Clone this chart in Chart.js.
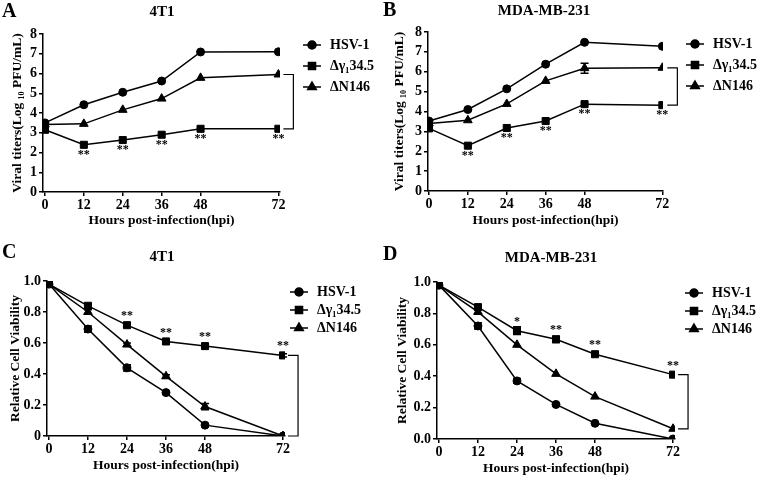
<!DOCTYPE html>
<html>
<head>
<meta charset="utf-8">
<script src="https://cdn.jsdelivr.net/npm/chart.js@4"></script>
<style>
  html, body { margin: 0; padding: 0; background: #fff; }
  #wrap { position: relative; width: 760px; height: 478px; overflow: hidden; }
  canvas { position: absolute; }
</style>
</head>
<body>
<div id="wrap">
  <canvas id="panelA" width="380" height="240" style="left:0;top:0"></canvas>
  <canvas id="panelB" width="380" height="240" style="left:380px;top:0"></canvas>
  <canvas id="panelC" width="380" height="238" style="left:0;top:240px"></canvas>
  <canvas id="panelD" width="380" height="238" style="left:380px;top:240px"></canvas>
</div>
<script>
// data
const hours = [0, 12, 24, 36, 48, 72];
const xTicks = [0, 12, 24, 36, 48, 72];
const seriesNames = ['HSV-1', 'Δγ₁34.5', 'ΔN146'];

// A: 4T1 viral titers
const titerA_HSV = [3.5, 4.42, 5.05, 5.62, 7.09, 7.1];
const titerA_G345 = [3.15, 2.39, 2.63, 2.9, 3.2, 3.2];
const titerA_N146 = [3.42, 3.45, 4.16, 4.73, 5.78, 5.95];
const starsA = ['', '**', '**', '**', '**', '**'];

// B: MDA-MB-231 viral titers
const titerB_HSV = [3.52, 4.1, 5.14, 6.38, 7.48, 7.28];
const titerB_G345 = [3.15, 2.28, 3.17, 3.52, 4.37, 4.32];
const titerB_N146 = [3.4, 3.56, 4.38, 5.54, 6.18, 6.2];
const errB_N146 = [0, 0, 0, 0, 0.25, 0];
const starsB = ['', '**', '**', '**', '**', '**'];

// C: 4T1 viability
const viaC_HSV = [0.98, 0.69, 0.44, 0.28, 0.07, 0];
const viaC_G345 = [0.98, 0.84, 0.715, 0.61, 0.58, 0.52];
const viaC_N146 = [0.98, 0.8, 0.59, 0.385, 0.19, 0];
const errC_HSV = [0, 0.02, 0.02, 0.01, 0.01, 0];
const errC_G345 = [0, 0.012, 0.01, 0.01, 0.01, 0.01];
const errC_N146 = [0, 0.015, 0.01, 0.01, 0.02, 0];
const starsC = ['', '', '**', '**', '**', '**'];

// D: MDA-MB-231 viability
const viaD_HSV = [0.98, 0.72, 0.37, 0.22, 0.1, 0];
const viaD_G345 = [0.98, 0.84, 0.69, 0.635, 0.54, 0.41];
const viaD_N146 = [0.98, 0.81, 0.6, 0.415, 0.27, 0.065];
const errD_HSV = [0, 0.02, 0.015, 0, 0, 0];
const errD_G345 = [0, 0.01, 0.025, 0.02, 0.01, 0];
const errD_N146 = [0, 0.015, 0, 0, 0, 0];
const starsD = ['', '', '*', '**', '**', '**'];

const FONT = "'Liberation Serif', 'Times New Roman', serif";
const pointStyles = ['circle', 'rect', 'triangle'];
const pointSizes = [4, 5, 5];

const decorPlugin = {
    id: 'decor',
    afterDatasetsDraw(chart, args, o) {
        const { ctx, scales: { x, y } } = chart;
        ctx.save();
        ctx.strokeStyle = '#000';
        ctx.fillStyle = '#000';
        ctx.lineWidth = 1.5;

        // error bars
        chart.data.datasets.forEach(ds => {
            if (!ds.errors) return;
            ds.errors.forEach((e, j) => {
                if (!e) return;
                const px = x.getPixelForValue(ds.data[j].x);
                const t = y.getPixelForValue(ds.data[j].y + e);
                const b = y.getPixelForValue(ds.data[j].y - e);
                ctx.beginPath();
                ctx.moveTo(px, t); ctx.lineTo(px, b);
                ctx.moveTo(px - 4, t); ctx.lineTo(px + 4, t);
                ctx.moveTo(px - 4, b); ctx.lineTo(px + 4, b);
                ctx.stroke();
            });
        });

        // significance stars
        const sd = chart.data.datasets[1].data;
        ctx.font = 'bold 12px ' + FONT;
        ctx.textAlign = 'center';
        ctx.textBaseline = 'middle';
        o.stars.forEach((s, j) => {
            if (!s) return;
            const px = x.getPixelForValue(sd[j].x);
            const py = y.getPixelForValue(sd[j].y);
            ctx.fillText(s, px, py + o.starDy);
        });

        // bracket at last time point
        const last = hours.length - 1;
        const bx = x.getPixelForValue(hours[last]);
        const y1 = y.getPixelForValue(chart.data.datasets[o.bracket[0]].data[last].y);
        const y2 = y.getPixelForValue(chart.data.datasets[o.bracket[1]].data[last].y);
        ctx.lineWidth = 1.2;
        ctx.beginPath();
        ctx.moveTo(bx + 5, y1); ctx.lineTo(bx + 15, y1);
        ctx.lineTo(bx + 15, y2); ctx.lineTo(bx + 5, y2);
        ctx.stroke();

        // legend
        ctx.textAlign = 'left';
        ctx.font = 'bold 14px ' + FONT;
        chart.data.datasets.forEach((ds, i) => {
            const ly = o.legend.y + i * o.legend.gap;
            ctx.lineWidth = 1.5;
            ctx.beginPath();
            ctx.moveTo(o.legend.x, ly); ctx.lineTo(o.legend.x + 18, ly);
            ctx.stroke();
            Chart.helpers.drawPoint(ctx, { pointStyle: pointStyles[i], radius: pointSizes[i], rotation: 0, borderWidth: 1 }, o.legend.x + 9, ly);
            ctx.fill();
            ctx.fillText(ds.label, o.legend.x + 27, ly);
        });

        // panel letter and title
        ctx.font = 'bold 20px ' + FONT;
        ctx.fillText(o.letter, o.letterX, o.letterY);
        ctx.textAlign = 'center';
        ctx.font = 'bold 15px ' + FONT;
        ctx.fillText(o.title, o.titleX, o.titleY);
        ctx.restore();
    }
};

function makePanel(id, p) {
    const ctx = document.getElementById(id).getContext('2d');
    const tickFont = { family: FONT, size: 14, weight: 'bold' };
    const axisLine = { display: true, color: '#000', width: 1.5 };
    const gridTicks = { display: true, drawOnChartArea: false, drawTicks: true, tickLength: 4, color: '#000', lineWidth: 1.5 };
    return new Chart(ctx, {
        type: 'line',
        data: {
            datasets: p.series.map((vals, i) => ({
                label: seriesNames[i],
                data: hours.map((h, j) => ({ x: h, y: vals[j] })),
                errors: p.errors[i],
                borderColor: '#000',
                backgroundColor: '#000',
                borderWidth: 1.5,
                pointStyle: pointStyles[i],
                pointRadius: pointSizes[i],
                pointBorderWidth: 1,
                tension: 0
            }))
        },
        options: {
            responsive: false,
            animation: false,
            events: [],
            layout: { padding: { top: p.top, right: p.right, left: 0, bottom: 0 } },
            plugins: {
                legend: { display: false },
                tooltip: { enabled: false },
                decor: p.decor
            },
            scales: {
                x: {
                    type: 'linear',
                    min: p.xMin,
                    max: p.xMax,
                    afterBuildTicks: s => { s.ticks = xTicks.map(v => ({ value: v })); },
                    afterFit: s => { s.height = p.xHeight; },
                    grid: gridTicks,
                    border: axisLine,
                    ticks: { font: tickFont, color: '#000', padding: 1, maxRotation: 0, autoSkip: false },
                    title: {
                        display: true,
                        text: 'Hours post-infection(hpi)',
                        font: { family: FONT, size: 13.5, weight: 'bold' },
                        color: '#000',
                        padding: { top: 0, bottom: p.xTitlePad }
                    }
                },
                y: {
                    min: p.yMin,
                    max: p.yMax,
                    afterFit: s => { s.width = p.yWidth; },
                    grid: gridTicks,
                    border: axisLine,
                    ticks: { font: tickFont, color: '#000', padding: 2, stepSize: p.yStep, autoSkip: false, callback: p.yFmt },
                    title: {
                        display: true,
                        text: p.yTitle,
                        font: { family: FONT, size: 13.5, weight: 'bold' },
                        color: '#000',
                        padding: { top: p.yTitlePad, bottom: 0 }
                    }
                }
            }
        },
        plugins: [decorPlugin]
    });
}

const titerTitle = 'Viral titers(Log ₁₀ PFU/mL)';
const viaTitle = 'Relative Cell Viability';

makePanel('panelA', {
    series: [titerA_HSV, titerA_G345, titerA_N146],
    errors: [null, null, null],
    top: 34, right: 100, yWidth: 43, xHeight: 48, xTitlePad: 11, yTitlePad: 9,
    xMin: -0.6, xMax: 72.5, yMin: 0, yMax: 8, yStep: 1, yFmt: v => v,
    yTitle: titerTitle,
    decor: {
        stars: starsA, starDy: 10, bracket: [2, 1],
        legend: { x: 303, y: 45, gap: 21 },
        letter: 'A', letterX: 2, letterY: 12, title: '4T1', titleX: 162, titleY: 12
    }
});

makePanel('panelB', {
    series: [titerB_HSV, titerB_G345, titerB_N146],
    errors: [null, null, errB_N146],
    top: 32, right: 97, yWidth: 48, xHeight: 49, xTitlePad: 11, yTitlePad: 11,
    xMin: -0.3, xMax: 72.2, yMin: 0, yMax: 8, yStep: 1, yFmt: v => v,
    yTitle: titerTitle,
    decor: {
        stars: starsB, starDy: 10, bracket: [2, 1],
        legend: { x: 306, y: 44, gap: 21 },
        letter: 'B', letterX: 3, letterY: 11, title: 'MDA-MB-231', titleX: 164, titleY: 11
    }
});

makePanel('panelC', {
    series: [viaC_HSV, viaC_G345, viaC_N146],
    errors: [errC_HSV, errC_G345, errC_N146],
    top: 41, right: 95, yWidth: 47, xHeight: 42, xTitlePad: 4, yTitlePad: 7,
    xMin: -0.6, xMax: 72.6, yMin: 0, yMax: 1, yStep: 0.2,
    yFmt: v => (v === 0 ? '0' : v.toFixed(1)),
    yTitle: viaTitle,
    decor: {
        stars: starsC, starDy: -9, bracket: [1, 0],
        legend: { x: 290, y: 52, gap: 18 },
        letter: 'C', letterX: 2, letterY: 13, title: '4T1', titleX: 162, titleY: 17
    }
});

makePanel('panelD', {
    series: [viaD_HSV, viaD_G345, viaD_N146],
    errors: [errD_HSV, errD_G345, errD_N146],
    top: 42, right: 85, yWidth: 57, xHeight: 39, xTitlePad: 1, yTitlePad: 14,
    xMin: -0.6, xMax: 72.6, yMin: 0, yMax: 1, yStep: 0.2,
    yFmt: v => v.toFixed(1),
    yTitle: viaTitle,
    decor: {
        stars: starsD, starDy: -9, bracket: [1, 2],
        legend: { x: 305, y: 53, gap: 18 },
        letter: 'D', letterX: 3, letterY: 15, title: 'MDA-MB-231', titleX: 171, titleY: 18
    }
});
</script>
</body>
</html>
